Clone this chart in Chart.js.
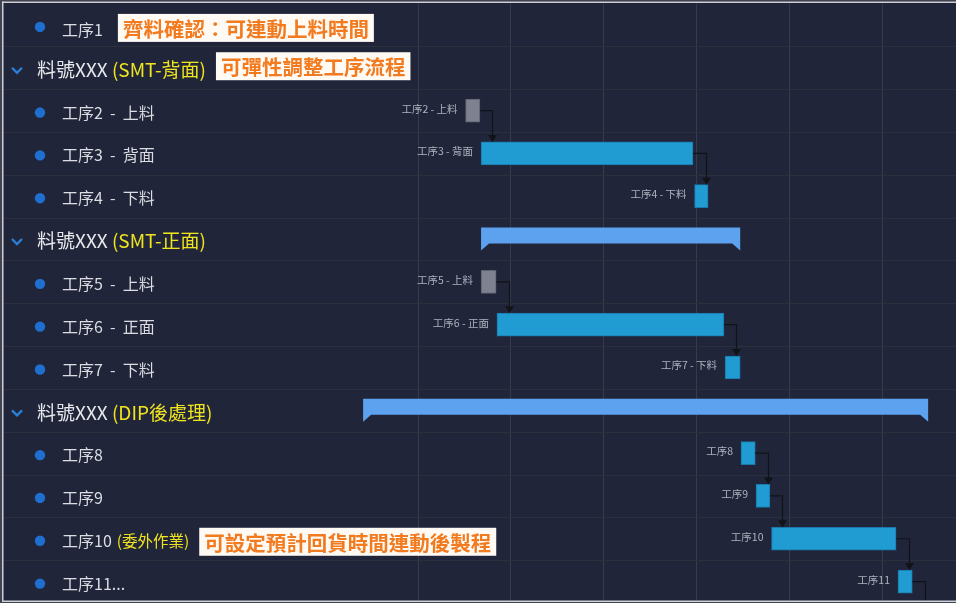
<!DOCTYPE html>
<html>
<head>
<meta charset="utf-8">
<script src="https://cdn.jsdelivr.net/npm/chart.js@4.4.1/dist/chart.umd.min.js"></script>
<style>
  html, body { margin: 0; padding: 0; background: #20253a; }
  #wrap { width: 956px; height: 603px; position: relative; }
</style>
</head>
<body>
<div id="wrap"><canvas id="gantt"></canvas></div>
<script>
// rows of the gantt (top to bottom)
const rowLabels = ['工序1', '料號XXX (SMT-背面)', '工序2 - 上料', '工序3 - 背面', '工序4 - 下料',
    '料號XXX (SMT-正面)', '工序5 - 上料', '工序6 - 正面', '工序7 - 下料',
    '料號XXX (DIP後處理)', '工序8', '工序9', '工序10 (委外作業)', '工序11...'];
const rowTypes = ['task', 'group', 'task', 'task', 'task', 'group', 'task', 'task', 'task',
    'group', 'task', 'task', 'task', 'task'];
const barLabels = [null, null, '工序2 - 上料', '工序3 - 背面', '工序4 - 下料', null, '工序5 - 上料',
    '工序6 - 正面', '工序7 - 下料', null, '工序8', '工序9', '工序10', '工序11'];

// hours from the first grid line
const taskStart = [null, null, 12.3, 16.3, 71.5, null, 16.3, 20.4, 79.4, null, 83.5, 87.4, 91.4, 124.1];
const taskEnd = [null, null, 16, 71.1, 75, null, 20.2, 79.1, 83.3, null, 87.2, 91, 123.6, 127.8];
const groupStart = [null, null, null, null, null, 16.3, null, null, null, -14.2, null, null, null, null];
const groupEnd = [null, null, null, null, null, 83.3, null, null, null, 131.9, null, null, null, null];

// dependency arrows [from row, to row]
const links = [[2, 3], [3, 4], [6, 7], [7, 8], [10, 11], [11, 12], [12, 13], [13, null]];

// callouts
const notes = [
    { row: 0, text: '齊料確認：可連動上料時間' },
    { row: 1, text: '可彈性調整工序流程' },
    { row: 12, text: '可設定預計回貨時間連動後製程' }
];

const FONT = '"Noto Sans CJK TC", "Noto Sans", sans-serif';

function pairs(a, b) {
    return a.map(function (v, i) { return v === null ? null : [v, b[i]]; });
}

// background + row lines
const bgPlugin = {
    id: 'bg',
    beforeDraw: function (chart) {
        const ctx = chart.ctx;
        ctx.save();
        ctx.fillStyle = '#20253a';
        ctx.fillRect(0, 0, chart.width, chart.height);
        ctx.restore();
    },
    beforeDatasetsDraw: function (chart) {
        const ctx = chart.ctx;
        const y = chart.scales.y;
        ctx.save();
        ctx.strokeStyle = '#2c303d';
        ctx.lineWidth = 1;
        for (let i = 0; i < rowLabels.length - 1; i++) {
            const py = Math.round((y.getPixelForValue(i) + y.getPixelForValue(i + 1)) / 2) + 0.5;
            ctx.beginPath();
            ctx.moveTo(0, py);
            ctx.lineTo(chart.width, py);
            ctx.stroke();
        }
        ctx.restore();
    }
};

// summary bars with the little tips, bar labels, arrows
const ganttPlugin = {
    id: 'gantt',
    afterDatasetsDraw: function (chart) {
        const ctx = chart.ctx;
        ctx.save();

        // summary bars
        chart.getDatasetMeta(1).data.forEach(function (el, i) {
            if (groupStart[i] === null) return;
            const left = Math.min(el.x, el.base), right = Math.max(el.x, el.base);
            const top = el.y - 11.5, bot = el.y + 4.5;
            ctx.fillStyle = '#5ca2ee';
            ctx.beginPath();
            ctx.moveTo(left, top);
            ctx.lineTo(right, top);
            ctx.lineTo(right, bot + 7);
            ctx.lineTo(right - 8, bot);
            ctx.lineTo(left + 8, bot);
            if (left > chart.chartArea.left + 1) {
                ctx.lineTo(left, bot + 7);
            } else {
                ctx.lineTo(left, bot);
            }
            ctx.closePath();
            ctx.fill();
        });

        const tasks = chart.getDatasetMeta(0).data;

        // labels left of bars
        ctx.font = '10.5px ' + FONT;
        ctx.fillStyle = '#aeb2bd';
        ctx.textAlign = 'right';
        ctx.textBaseline = 'middle';
        tasks.forEach(function (el, i) {
            if (taskStart[i] === null) return;
            ctx.fillText(barLabels[i], Math.min(el.x, el.base) - 8, el.y - 2);
        });

        // arrows
        ctx.strokeStyle = '#121319';
        ctx.fillStyle = '#121319';
        ctx.lineWidth = 1.2;
        links.forEach(function (l) {
            const a = tasks[l[0]];
            const right = Math.max(a.x, a.base);
            const vx = Math.round(right + 12.5) + 0.5;
            const endY = l[1] === null ? chart.chartArea.bottom : tasks[l[1]].y - tasks[l[1]].height / 2;
            ctx.beginPath();
            ctx.moveTo(right, a.y);
            ctx.lineTo(vx, a.y);
            ctx.lineTo(vx, l[1] === null ? endY : endY - 5);
            ctx.stroke();
            if (l[1] !== null) {
                ctx.beginPath();
                ctx.moveTo(vx - 4.5, endY - 7);
                ctx.lineTo(vx + 4.5, endY - 7);
                ctx.lineTo(vx, endY);
                ctx.closePath();
                ctx.fill();
            }
        });
        ctx.restore();
    }
};

// left side tree, callouts, frame
const sidePlugin = {
    id: 'side',
    afterDraw: function (chart) {
        const ctx = chart.ctx;
        const y = chart.scales.y;
        const labelEnd = [];
        ctx.save();
        ctx.textBaseline = 'middle';
        ctx.textAlign = 'left';
        rowLabels.forEach(function (label, i) {
            const py = y.getPixelForValue(i) + 2;
            const parts = label.split(' (');
            let x;
            if (rowTypes[i] === 'group') {
                ctx.strokeStyle = '#2a7fd6';
                ctx.lineWidth = 2.4;
                ctx.beginPath();
                ctx.moveTo(12, py - 2);
                ctx.lineTo(17, py + 3);
                ctx.lineTo(22, py - 2);
                ctx.stroke();
                ctx.font = '19px ' + FONT;
                ctx.fillStyle = '#e8e9ec';
                ctx.fillText(parts[0], 37, py);
                x = 37 + ctx.measureText(parts[0] + ' ').width;
                if (parts[1]) {
                    ctx.fillStyle = '#efe41f';
                    ctx.fillText('(' + parts[1], x, py);
                    x += ctx.measureText('(' + parts[1]).width;
                }
            } else {
                ctx.fillStyle = '#1f6fd0';
                ctx.beginPath();
                ctx.arc(40, py, 5.2, 0, Math.PI * 2);
                ctx.fill();
                ctx.font = '16px ' + FONT;
                ctx.fillStyle = '#dcdde2';
                // a bit looser spacing round the dash
                const main = parts[0].replace(' - ', '  -  ');
                ctx.fillText(main, 62, py + (i === 0 ? 3 : 0));
                x = 62 + ctx.measureText(main).width;
                if (parts[1]) {
                    ctx.font = '15.5px ' + FONT;
                    ctx.fillStyle = '#efe41f';
                    x += 5;
                    ctx.fillText('(' + parts[1], x, py);
                    x += ctx.measureText('(' + parts[1]).width;
                }
            }
            labelEnd[i] = x;
        });

        // callouts
        ctx.font = 'bold 20.5px ' + FONT;
        notes.forEach(function (n) {
            const py = y.getPixelForValue(n.row) + (n.row === 1 ? -1.5 : 3);
            const bx = labelEnd[n.row] + (n.row === 0 ? 15 : 10);
            const w = ctx.measureText(n.text).width + 10;
            ctx.fillStyle = '#fffaf4';
            ctx.fillRect(bx, py - 14, w, 28);
            ctx.fillStyle = '#f27a1f';
            ctx.fillText(n.text, bx + 5, py + 1);
        });

        // frame
        ctx.fillStyle = '#41444f';
        ctx.fillRect(0, 0, 2, chart.height);
        ctx.fillRect(0, 0, chart.width, 1.5);
        ctx.fillRect(0, chart.height - 1, chart.width, 1);
        ctx.fillStyle = '#cdd0d6';
        ctx.fillRect(2, 1.5, 1.5, chart.height - 3);
        ctx.fillRect(2, 1.5, chart.width, 1.5);
        ctx.fillRect(2, chart.height - 2.5, chart.width, 1.5);
        ctx.restore();
    }
};

new Chart(document.getElementById('gantt'), {
    type: 'bar',
    data: {
        labels: rowLabels,
        datasets: [{
            label: 'tasks',
            data: pairs(taskStart, taskEnd),
            backgroundColor: rowLabels.map(function (l) { return l.indexOf('上料') > -1 ? '#7e818f' : '#219cd2'; }),
            borderColor: rowLabels.map(function (l) { return l.indexOf('上料') > -1 ? '#5e616e' : '#1a78aa'; }),
            borderWidth: 1,
            borderSkipped: false,
            barThickness: 23,
            grouped: false
        }, {
            label: 'groups',
            data: pairs(groupStart, groupEnd),
            backgroundColor: 'transparent',
            borderWidth: 0,
            barThickness: 23,
            grouped: false
        }]
    },
    options: {
        indexAxis: 'y',
        responsive: true,
        maintainAspectRatio: false,
        animation: false,
        layout: { padding: { top: 3.5, bottom: 0, left: 0, right: 0 } },
        plugins: {
            legend: { display: false },
            tooltip: { enabled: false }
        },
        scales: {
            x: {
                type: 'linear',
                min: -24,
                max: 139.1,
                border: { display: false },
                ticks: { display: false, stepSize: 24 },
                grid: {
                    drawTicks: false,
                    color: function (c) {
                        return (c.tick && c.tick.value >= 0 && c.tick.value % 24 === 0) ? '#373b48' : 'transparent';
                    }
                }
            },
            y: {
                border: { display: false },
                ticks: { display: false },
                grid: { display: false },
                afterFit: function (scale) { scale.width = 325.2; }
            }
        }
    },
    plugins: [bgPlugin, ganttPlugin, sidePlugin]
});
</script>
</body>
</html>
